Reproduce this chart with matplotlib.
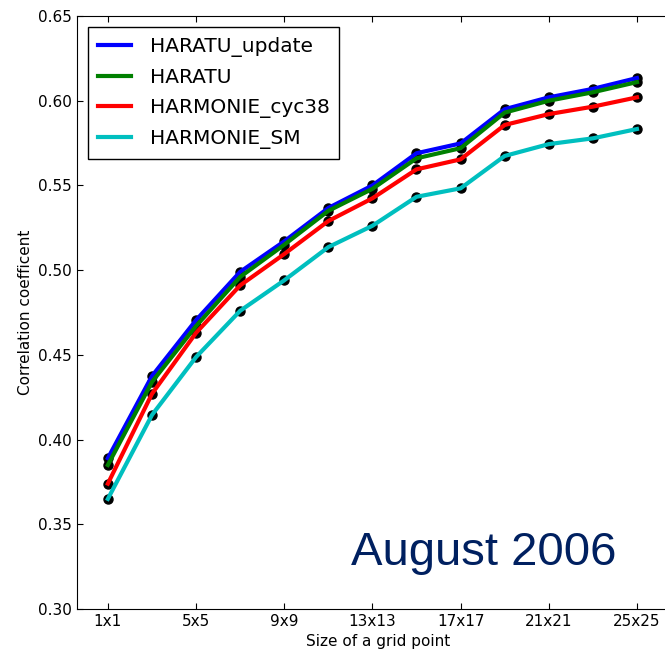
import numpy as np
import matplotlib
matplotlib.use('Agg')
import matplotlib.pyplot as plt

sizes = ['1x1', '3x3', '5x5', '7x7', '9x9', '11x11', '13x13',
         '15x15', '17x17', '19x19', '21x21', '23x23', '25x25']

haratu_update = [0.389, 0.4375, 0.4705, 0.499, 0.517, 0.5367, 0.550,
                 0.569, 0.5748, 0.595, 0.602, 0.607, 0.6134]
haratu = [0.385, 0.434, 0.467, 0.496, 0.515, 0.535, 0.548,
          0.566, 0.572, 0.593, 0.600, 0.605, 0.611]
harmonie_cyc38 = [0.374, 0.427, 0.463, 0.491, 0.5095, 0.529, 0.5424,
                  0.5595, 0.5654, 0.5857, 0.5921, 0.5965, 0.602]
harmonie_sm = [0.365, 0.4145, 0.4487, 0.476, 0.494, 0.5136, 0.5262,
               0.5433, 0.5483, 0.5674, 0.5744, 0.5778, 0.5833]

series = [('HARATU_update', haratu_update, 'b'),
          ('HARATU', haratu, 'g'),
          ('HARMONIE_cyc38', harmonie_cyc38, 'r'),
          ('HARMONIE_SM', harmonie_sm, 'c')]

x = np.arange(len(sizes))

fig = plt.figure(figsize=(6.65, 6.54), dpi=100)
# right edge of the axes runs just past the picture, as in the original crop
ax = fig.add_axes([0.1158, 0.0688, 0.905, 0.9067])

for name, vals, col in series:
    ax.plot(x, vals, 'o', color='k', markersize=6.5, zorder=2)
    ax.plot(x, vals, '-', color=col, linewidth=3, label=name, zorder=3)

ax.set_xlim(-0.7, 12.95)
ax.set_ylim(0.30, 0.65)
ax.set_xticks(x[::2])
ax.set_xticklabels(sizes[::2])
ax.set_yticks(np.arange(0.30, 0.651, 0.05))
ax.yaxis.set_major_formatter(matplotlib.ticker.FormatStrFormatter('%.2f'))
ax.tick_params(direction='in', top=True, right=True, labelsize=11, length=4)
ax.set_xlabel('Size of a grid point', fontsize=11)
ax.set_ylabel('Correlation coefficent', fontsize=11)

leg = ax.legend(loc='upper left', fontsize=14.5, fancybox=False, framealpha=1,
                handlelength=1.65, handletextpad=0.9, borderaxespad=0.55,
                labelspacing=0.55, borderpad=0.5)
leg.get_frame().set_edgecolor('k')

ax.text(0.455, 0.075, 'August 2006', transform=ax.transAxes, fontsize=34,
        color='#002060', family='Liberation Sans')

fig.savefig('out.png', dpi=100)
